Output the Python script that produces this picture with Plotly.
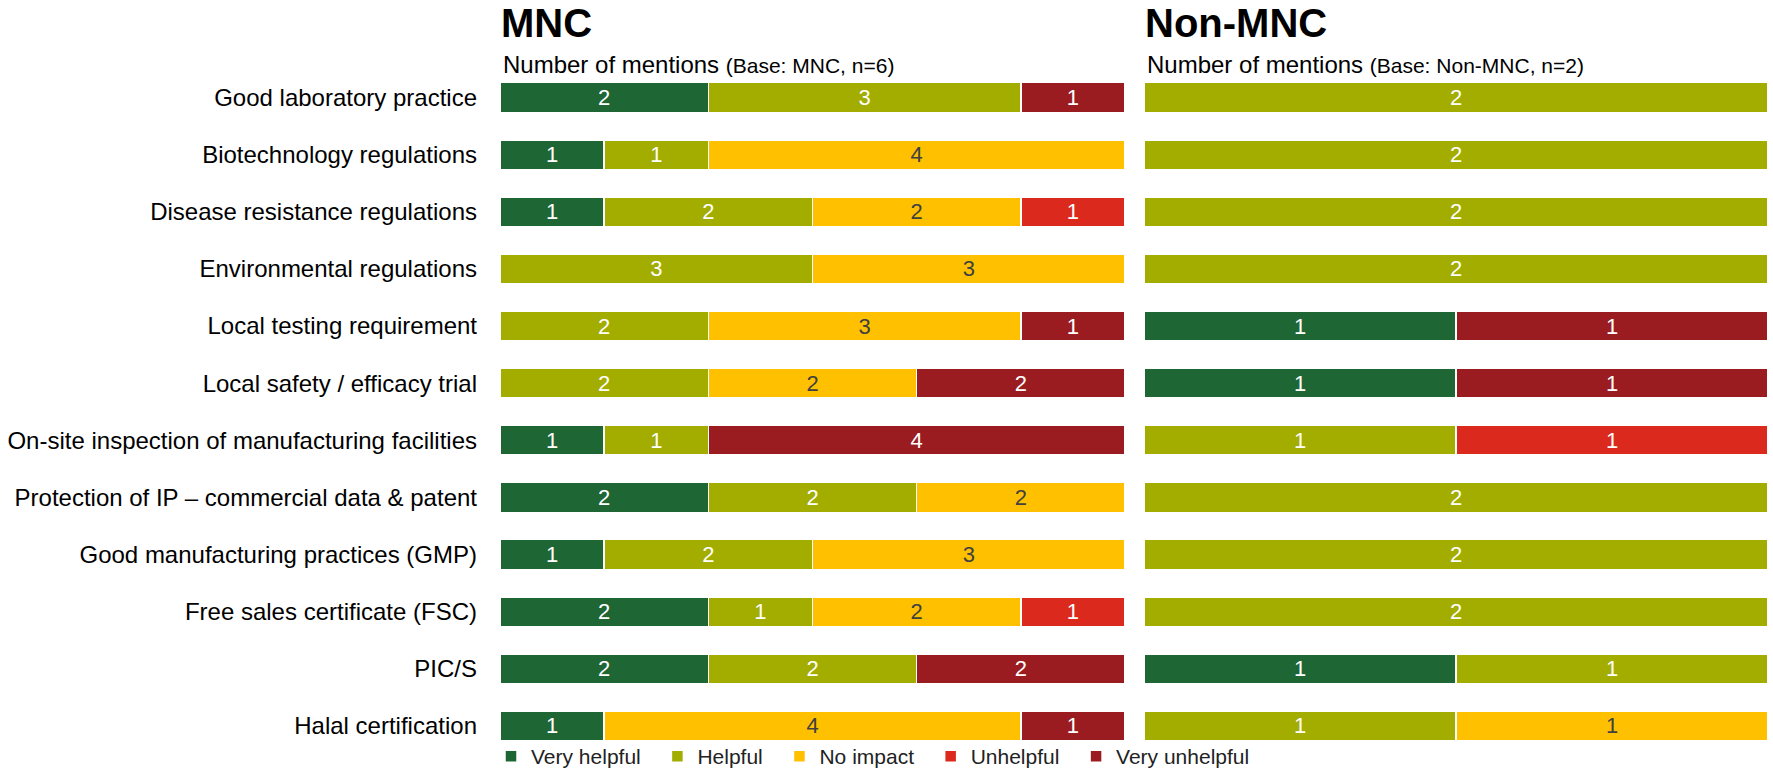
import plotly.graph_objects as go

categories = [
    "Good laboratory practice",
    "Biotechnology regulations",
    "Disease resistance regulations",
    "Environmental regulations",
    "Local testing requirement",
    "Local safety / efficacy trial",
    "On-site inspection of manufacturing facilities",
    "Protection of IP \u2013 commercial data & patent",
    "Good manufacturing practices (GMP)",
    "Free sales certificate (FSC)",
    "PIC/S",
    "Halal certification",
]

series_names = ["Very helpful", "Helpful", "No impact", "Unhelpful", "Very unhelpful"]
series_colors = ["#1F6635", "#A3AD00", "#FFC000", "#DC291E", "#9B1C20"]
text_colors = ["white", "white", "#404040", "white", "white"]

# MNC (n=6)
mnc_very_helpful   = [2, 1, 1, 0, 0, 0, 1, 2, 1, 2, 2, 1]
mnc_helpful        = [3, 1, 2, 3, 2, 2, 1, 2, 2, 1, 2, 0]
mnc_no_impact      = [0, 4, 2, 3, 3, 2, 0, 2, 3, 2, 0, 4]
mnc_unhelpful      = [0, 0, 1, 0, 0, 0, 0, 0, 0, 1, 0, 0]
mnc_very_unhelpful = [1, 0, 0, 0, 1, 2, 4, 0, 0, 0, 2, 1]

# Non-MNC (n=2)
non_very_helpful   = [0, 0, 0, 0, 1, 1, 0, 0, 0, 0, 1, 0]
non_helpful        = [2, 2, 2, 2, 0, 0, 1, 2, 2, 2, 1, 1]
non_no_impact      = [0, 0, 0, 0, 0, 0, 0, 0, 0, 0, 0, 1]
non_unhelpful      = [0, 0, 0, 0, 0, 0, 1, 0, 0, 0, 0, 0]
non_very_unhelpful = [0, 0, 0, 0, 1, 1, 0, 0, 0, 0, 0, 0]

mnc_series = [mnc_very_helpful, mnc_helpful, mnc_no_impact, mnc_unhelpful, mnc_very_unhelpful]
non_series = [non_very_helpful, non_helpful, non_no_impact, non_unhelpful, non_very_unhelpful]

W, H = 1773, 777
ROW = 57.1
PLOT_TOP, PLOT_BOT = 69.3, 777.0
Y_MAX = -0.5 + (PLOT_BOT - PLOT_TOP) / ROW
FONT = "Arial, Liberation Sans, sans-serif"

def fx(px):
    return px / W

ph = PLOT_BOT - PLOT_TOP
def fy(py):
    return (PLOT_BOT - py) / ph

fig = go.Figure()

PAD = "\u00a0\u00a0"
for i, name in enumerate(series_names):
    for vals, xa, ya, show in [(mnc_series[i], "x", "y", True), (non_series[i], "x2", "y2", False)]:
        fig.add_trace(go.Bar(
            y=categories, x=vals, orientation="h", name=name + PAD,
            legendgroup=name, showlegend=show,
            xaxis=xa, yaxis=ya,
            marker=dict(color=series_colors[i], line=dict(color="white", width=1.5)),
            text=[str(v) if v > 0 else "" for v in vals],
            textposition="inside", insidetextanchor="middle", textangle=0,
            textfont=dict(color=text_colors[i], size=22, family=FONT),
            constraintext="none",
            hoverinfo="skip",
        ))

fig.update_layout(
    width=W, height=H,
    margin=dict(l=0, r=0, t=PLOT_TOP, b=H - PLOT_BOT, pad=0),
    barmode="stack", bargap=0.48,
    plot_bgcolor="white", paper_bgcolor="white",
    font=dict(family=FONT, color="black"),
    xaxis=dict(domain=[fx(500), fx(1125)], range=[0, 6], visible=False, fixedrange=True),
    xaxis2=dict(domain=[fx(1144), fx(1768)], range=[0, 2], visible=False, fixedrange=True),
    yaxis=dict(range=[Y_MAX, -0.5], tickfont=dict(size=24, color="black", family=FONT),
               ticklabelstandoff=22, showgrid=False, zeroline=False, showline=False,
               automargin=False, anchor="x", fixedrange=True),
    yaxis2=dict(showticklabels=False, showgrid=False,
                zeroline=False, showline=False, anchor="x2", matches="y"),
    legend=dict(orientation="h", x=fx(491), xanchor="left", y=0, yanchor="bottom",
                font=dict(size=21, color="#222222", family=FONT), itemwidth=30,
                traceorder="normal", bgcolor="rgba(0,0,0,0)"),
    showlegend=True,
)

for xpos, title, sub in [(499, "MNC", "(Base: MNC, n=6)"), (1143, "Non-MNC", "(Base: Non-MNC, n=2)")]:
    fig.add_annotation(x=fx(xpos), y=fy(23), xref="paper", yref="paper", xanchor="left",
                       yanchor="middle", showarrow=False, text="<b>" + title + "</b>",
                       font=dict(size=40, color="black", family=FONT))
    fig.add_annotation(x=fx(xpos + 2), y=fy(64.5), xref="paper", yref="paper", xanchor="left",
                       yanchor="middle", showarrow=False,
                       text="Number of mentions <span style='font-size:21px'>" + sub + "</span>",
                       font=dict(size=24, color="black", family=FONT))

fig.write_html("out.html", config={"displayModeBar": False},
               post_script="document.body.style.margin='0';document.body.style.padding='0';")
